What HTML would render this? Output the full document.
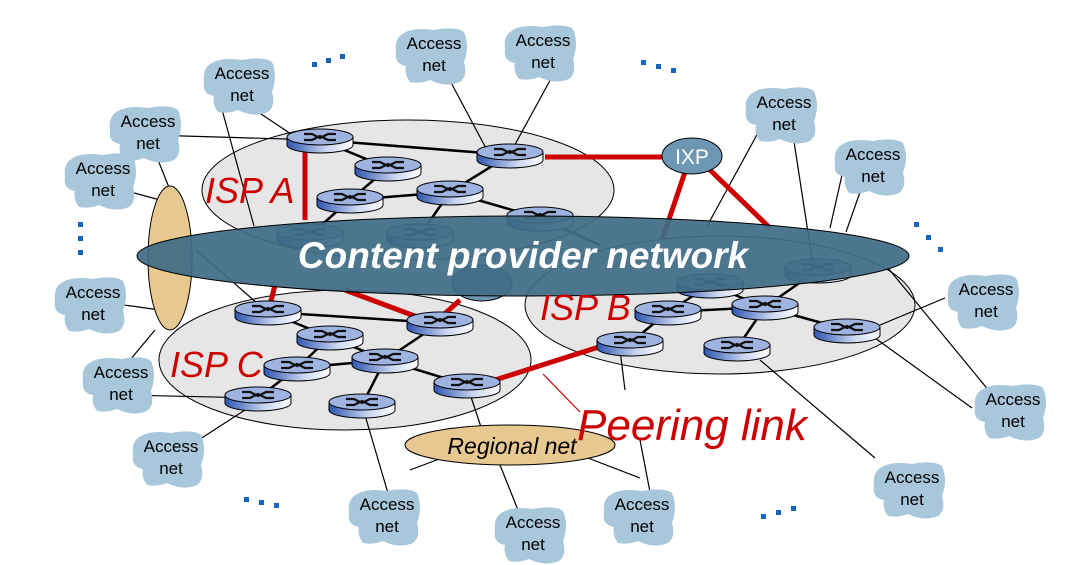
<!DOCTYPE html>
<html><head><meta charset="utf-8"><style>
html,body{margin:0;padding:0;background:#fff;}
svg{display:block;font-family:"Liberation Sans",Arial,sans-serif;}
</style></head><body>
<svg width="1086" height="565" viewBox="0 0 1086 565" xmlns="http://www.w3.org/2000/svg">
<defs>
<linearGradient id="rg" x1="0" x2="1" y1="0" y2="0">
<stop offset="0" stop-color="#2f55b0"/><stop offset="0.6" stop-color="#c9d6f0"/><stop offset="1" stop-color="#ffffff"/>
</linearGradient>
<g id="r">
<path d="M-33,-3 v8 a33,8 0 0 0 66,0 v-8" fill="url(#rg)" stroke="#000" stroke-width="1"/>
<ellipse cx="0" cy="-3" rx="33" ry="8" fill="#9fb3e0" stroke="#000" stroke-width="1"/>
<path d="M-16,-6 h8 l8,4 l8,-4 h8 M-16,0 h8 l8,-4 l8,4 h8" stroke="#111" stroke-width="2.2" fill="none"/>
</g>
<g id="c">
<path d="M-30,-22 q10,-6 30,-3 q22,-4 30,2 q6,14 0,30 q4,14 -4,20 q-14,6 -30,-2 q-10,4 -20,2 q-6,-8 -4,-16 q-12,-2 -10,-14 q-2,-14 8,-19z" fill="#a8c7da"/>
</g>
</defs>

<ellipse cx="408" cy="190" rx="206" ry="70" fill="#e6e6e6" stroke="#000" stroke-width="1"/>
<ellipse cx="720" cy="305" rx="195" ry="69" fill="#e6e6e6" stroke="#000" stroke-width="1"/>
<ellipse cx="345" cy="360" rx="186" ry="70" fill="#e6e6e6" stroke="#000" stroke-width="1"/>

<g stroke="#000" stroke-width="1.2" fill="none">
<line x1="225" y1="90" x2="300" y2="140"/>
<line x1="218" y1="95" x2="254" y2="226"/>
<line x1="150" y1="135" x2="320" y2="140"/>
<line x1="150" y1="140" x2="172" y2="195"/>
<line x1="105" y1="185" x2="160" y2="200"/>
<line x1="447" y1="75" x2="488" y2="152"/>
<line x1="553" y1="75" x2="512" y2="150"/>
<line x1="765" y1="120" x2="706" y2="228"/>
<line x1="793" y1="135" x2="813" y2="265"/>
<line x1="842" y1="175" x2="830" y2="228"/>
<line x1="865" y1="178" x2="846" y2="232"/>
<line x1="88" y1="300" x2="160" y2="310"/>
<line x1="115" y1="378" x2="155" y2="330"/>
<line x1="196" y1="250" x2="265" y2="310"/>
<line x1="125" y1="395" x2="258" y2="398"/>
<line x1="180" y1="452" x2="245" y2="410"/>
<line x1="362" y1="405" x2="390" y2="500"/>
<line x1="467" y1="385" x2="488" y2="448"/>
<line x1="620" y1="350" x2="625" y2="390"/>
<line x1="640" y1="440" x2="650" y2="492"/>
<line x1="410" y1="470" x2="450" y2="455"/>
<line x1="500" y1="465" x2="520" y2="515"/>
<line x1="588" y1="458" x2="640" y2="478"/>
<line x1="760" y1="360" x2="875" y2="458"/>
<line x1="880" y1="325" x2="945" y2="298"/>
<line x1="875" y1="338" x2="972" y2="408"/>
<line x1="888" y1="268" x2="990" y2="392"/>
</g>

<g stroke="#000" stroke-width="2.5" fill="none">
<line x1="320" y1="140" x2="510" y2="155"/>
<line x1="320" y1="140" x2="388" y2="168"/>
<line x1="388" y1="168" x2="350" y2="200"/>
<line x1="350" y1="200" x2="450" y2="192"/>
<line x1="450" y1="192" x2="510" y2="155"/>
<line x1="450" y1="192" x2="540" y2="218"/>
<line x1="450" y1="192" x2="420" y2="235"/>
<line x1="350" y1="200" x2="310" y2="235"/>
<line x1="268" y1="312" x2="440" y2="323"/>
<line x1="268" y1="312" x2="330" y2="337"/>
<line x1="330" y1="337" x2="297" y2="368"/>
<line x1="297" y1="368" x2="385" y2="360"/>
<line x1="330" y1="337" x2="385" y2="360"/>
<line x1="385" y1="360" x2="440" y2="323"/>
<line x1="385" y1="360" x2="467" y2="385"/>
<line x1="385" y1="360" x2="362" y2="405"/>
<line x1="297" y1="368" x2="258" y2="398"/>
<line x1="710" y1="285" x2="668" y2="312"/>
<line x1="668" y1="312" x2="630" y2="343"/>
<line x1="668" y1="312" x2="765" y2="307"/>
<line x1="710" y1="285" x2="765" y2="307"/>
<line x1="765" y1="307" x2="818" y2="270"/>
<line x1="765" y1="307" x2="847" y2="330"/>
<line x1="765" y1="307" x2="737" y2="348"/>
<line x1="540" y1="218" x2="600" y2="245"/>
</g>

<g stroke="#cc0000" stroke-width="5" fill="none">
<line x1="305" y1="148" x2="305" y2="220"/>
<line x1="545" y1="157" x2="665" y2="157"/>
<line x1="685" y1="172" x2="662" y2="240"/>
<line x1="710" y1="170" x2="770" y2="228"/>
<line x1="275" y1="285" x2="270" y2="305"/>
<line x1="345" y1="290" x2="420" y2="318"/>
<line x1="460" y1="300" x2="440" y2="318"/>
<line x1="495" y1="380" x2="605" y2="345"/>
</g>
<line x1="543" y1="374" x2="580" y2="412" stroke="#cc0000" stroke-width="1.2"/>

<use href="#r" x="320" y="140"/><use href="#r" x="388" y="168"/><use href="#r" x="350" y="200"/>
<use href="#r" x="510" y="155"/><use href="#r" x="450" y="192"/><use href="#r" x="540" y="218"/>
<use href="#r" x="310" y="235"/><use href="#r" x="420" y="235"/>
<use href="#r" x="818" y="270"/><use href="#r" x="710" y="285"/><use href="#r" x="668" y="312"/>
<use href="#r" x="765" y="307"/><use href="#r" x="847" y="330"/><use href="#r" x="737" y="348"/><use href="#r" x="630" y="343"/>
<use href="#r" x="268" y="312"/><use href="#r" x="440" y="323"/><use href="#r" x="330" y="337"/>
<use href="#r" x="385" y="360"/><use href="#r" x="297" y="368"/><use href="#r" x="467" y="385"/>
<use href="#r" x="258" y="398"/><use href="#r" x="362" y="405"/>

<ellipse cx="482" cy="283" rx="30" ry="18" fill="#6e97b3" stroke="#000"/>
<ellipse cx="170" cy="258" rx="22" ry="72" fill="#e6c890" stroke="#000"/>

<ellipse cx="523" cy="256" rx="386" ry="40" fill="#3f6c86" fill-opacity="0.93" stroke="#000"/>
<text x="523" y="268" text-anchor="middle" font-size="37" font-weight="bold" font-style="italic" fill="#fff">Content provider network</text>

<ellipse cx="692" cy="156" rx="30" ry="18" fill="#6e97b3" stroke="#000"/>
<text x="692" y="164" text-anchor="middle" font-size="21" fill="#fff">IXP</text>

<ellipse cx="510" cy="445" rx="105" ry="20" fill="#e6c890" stroke="#000"/>
<text x="512" y="454" text-anchor="middle" font-size="23" font-style="italic" fill="#000">Regional net</text>

<g fill="#cc0000" font-style="italic" font-size="36">
<text x="205" y="203">ISP A</text>
<text x="540" y="320">ISP B</text>
<text x="170" y="377">ISP C</text>
<text x="577" y="440" font-size="44">Peering link</text>
</g>

<g font-size="17" text-anchor="middle" fill="#000">
<g transform="translate(434,55)"><use href="#c"/><text y="-6">Access</text><text y="16">net</text></g>
<g transform="translate(543,52)"><use href="#c"/><text y="-6">Access</text><text y="16">net</text></g>
<g transform="translate(242,85)"><use href="#c"/><text y="-6">Access</text><text y="16">net</text></g>
<g transform="translate(148,133)"><use href="#c"/><text y="-6">Access</text><text y="16">net</text></g>
<g transform="translate(103,180)"><use href="#c"/><text y="-6">Access</text><text y="16">net</text></g>
<g transform="translate(93,304)"><use href="#c"/><text y="-6">Access</text><text y="16">net</text></g>
<g transform="translate(121,384)"><use href="#c"/><text y="-6">Access</text><text y="16">net</text></g>
<g transform="translate(171,458)"><use href="#c"/><text y="-6">Access</text><text y="16">net</text></g>
<g transform="translate(387,516)"><use href="#c"/><text y="-6">Access</text><text y="16">net</text></g>
<g transform="translate(533,534)"><use href="#c"/><text y="-6">Access</text><text y="16">net</text></g>
<g transform="translate(642,516)"><use href="#c"/><text y="-6">Access</text><text y="16">net</text></g>
<g transform="translate(784,114)"><use href="#c"/><text y="-6">Access</text><text y="16">net</text></g>
<g transform="translate(873,166)"><use href="#c"/><text y="-6">Access</text><text y="16">net</text></g>
<g transform="translate(986,301)"><use href="#c"/><text y="-6">Access</text><text y="16">net</text></g>
<g transform="translate(1013,411)"><use href="#c"/><text y="-6">Access</text><text y="16">net</text></g>
<g transform="translate(912,489)"><use href="#c"/><text y="-6">Access</text><text y="16">net</text></g>
</g>

<g fill="#1565c0">
<rect x="312" y="62" width="5" height="5"/><rect x="326" y="58" width="5" height="5"/><rect x="340" y="54" width="5" height="5"/>
<rect x="641" y="60" width="5" height="5"/><rect x="656" y="64" width="5" height="5"/><rect x="671" y="68" width="5" height="5"/>
<rect x="78" y="222" width="5" height="5"/><rect x="78" y="236" width="5" height="5"/><rect x="78" y="250" width="5" height="5"/>
<rect x="914" y="222" width="5" height="5"/><rect x="926" y="235" width="5" height="5"/><rect x="938" y="247" width="5" height="5"/>
<rect x="244" y="497" width="5" height="5"/><rect x="259" y="500" width="5" height="5"/><rect x="274" y="503" width="5" height="5"/>
<rect x="761" y="514" width="5" height="5"/><rect x="776" y="510" width="5" height="5"/><rect x="791" y="506" width="5" height="5"/>
</g>
</svg>
</body></html>
